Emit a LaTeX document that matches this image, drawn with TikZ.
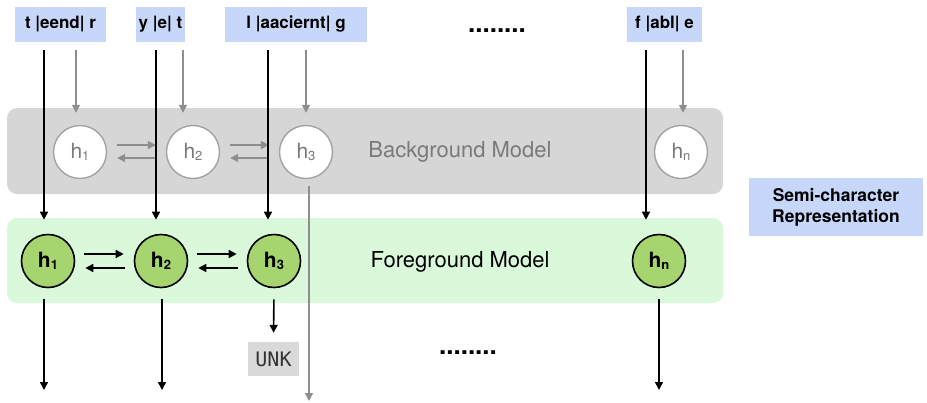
\documentclass[tikz,border=0pt]{standalone}
\usepackage{fontspec}
\setmainfont{TeX Gyre Heros}
\setmonofont{DejaVu Sans Mono}
\usetikzlibrary{arrows.meta,positioning}

\definecolor{bandgray}{HTML}{D6D6D6}
\definecolor{bandgreen}{HTML}{DAF9DA}
\definecolor{cellgreen}{HTML}{A6D46F}
\definecolor{lblblue}{HTML}{C7D7F9}
\definecolor{unkgray}{HTML}{D9D9D9}
\definecolor{linegray}{HTML}{8E8E8E}
\definecolor{ringgray}{HTML}{A2A2A2}
\definecolor{txtgray}{HTML}{7A7A7A}

\newcommand{\hsub}[1]{h\raisebox{-0.12ex}{\fontsize{13}{13}\selectfont #1}}

\tikzset{
  lbl/.style={fill=lblblue, font=\bfseries\fontsize{17}{20}\selectfont,
    minimum height=35pt, inner xsep=2pt},
  bgcell/.style={circle, draw=ringgray, fill=white, line width=1.4pt,
    minimum size=53pt, inner sep=0pt, text=txtgray,
    font=\fontsize{21}{21}\selectfont},
  fgcell/.style={circle, draw=black, fill=cellgreen, line width=1.6pt,
    minimum size=53pt, inner sep=0pt, font=\bfseries\fontsize{21}{21}\selectfont},
  blk/.style={line width=1.6pt, -{Triangle[length=8pt,width=8pt]}},
  gry/.style={draw=linegray, line width=1.4pt, -{Triangle[length=8pt,width=8pt]}},
  dots/.style={font=\bfseries\fontsize{26}{26}\selectfont, anchor=base}
}

\begin{document}
\begin{tikzpicture}[x=1pt,y=-1pt]

  \useasboundingbox (0,0) rectangle (927,402);

  % the two model bands
  \fill[bandgray, rounded corners=10pt] (7,108) rectangle (723,194);
  \fill[bandgreen, rounded corners=10pt] (7,218) rectangle (723,303);

  % input words
  \node[lbl, minimum width=91pt] (lbl1) at (60.5,24.5) {t |eend| r};
  \node[lbl, minimum width=49pt] (lbl2) at (160.5,24.5) {y |e| t};
  \node[lbl, minimum width=142pt] (lbl3) at (296,24.5) {l |aaciernt| g};
  \node[lbl, minimum width=75pt] (lbl4) at (664.5,24.5) {f |abl| e};
  \node[dots] (dtop) at (497,32) {........};

  \node[lbl, minimum width=174pt, minimum height=58pt, align=center,
    font=\bfseries\fontsize{17.5}{20}\selectfont] (semi) at (836,207)
    {Semi-character\\[1pt]Representation};

  % background model
  \node[bgcell] (bg1) at (80,152) {\hsub{1}};
  \node[bgcell] (bg2) at (193,152) {\hsub{2}};
  \node[bgcell] (bg3) at (306,152) {\hsub{3}};
  \node[bgcell] (bgn) at (681,152) {\hsub{n}};
  \node[text=txtgray, font=\fontsize{22}{22}\selectfont] (bgname) at (460,152) {Background Model};

  % foreground model
  \node[fgcell] (fg1) at (48,261) {\hsub{1}};
  \node[fgcell] (fg2) at (161,261) {\hsub{2}};
  \node[fgcell] (fg3) at (274,261) {\hsub{3}};
  \node[fgcell] (fgn) at (659,261) {\hsub{n}};
  \node[font=\fontsize{22}{22}\selectfont] (fgname) at (460,262) {Foreground Model};

  \node[fill=unkgray, minimum width=51pt, minimum height=34pt, inner sep=0pt,
    text=black!80, font=\ttfamily\fontsize{20}{20}\selectfont] (unk) at (273.5,359) {UNK};
  \node[dots] (dbot) at (468,354) {........};

  % line ends
  \coordinate (k1) at (44,50);   \coordinate (g1) at (76,50);
  \coordinate (k2) at (156,50);  \coordinate (g2) at (183,50);
  \coordinate (k3) at (268,50);  \coordinate (g3) at (306,50);
  \coordinate (kn) at (646,50);  \coordinate (gn) at (683,50);
  \coordinate (o1) at (44,390);  \coordinate (o2) at (162,390);
  \coordinate (on) at (659,390); \coordinate (g3out) at (309,401);

  % gray inputs and links
  \draw[gry, shorten >=12pt] (g1) -- (bg1.north -| g1);
  \draw[gry, shorten >=12pt] (g2) -- (bg2.north -| g2);
  \draw[gry, shorten >=12pt] (g3) -- (bg3.north -| g3);
  \draw[gry, shorten >=12pt] (gn) -- (bgn.north -| gn);
  \draw[gry, shorten <=10pt, shorten >=10pt] ([yshift=7pt]bg1.east) -- ([yshift=7pt]bg2.west);
  \draw[gry, shorten <=10pt, shorten >=10pt] ([yshift=-6pt]bg2.west) -- ([yshift=-6pt]bg1.east);
  \draw[gry, shorten <=10pt, shorten >=10pt] ([yshift=7pt]bg2.east) -- ([yshift=7pt]bg3.west);
  \draw[gry, shorten <=10pt, shorten >=10pt] ([yshift=-6pt]bg3.west) -- ([yshift=-6pt]bg2.east);
  \draw[gry, shorten <=7pt] (bg3.south -| g3out) -- (g3out);

  % black inputs
  \draw[blk, shorten >=14pt] (k1) -- (fg1.north -| k1);
  \draw[blk, shorten >=14pt] (k2) -- (fg2.north -| k2);
  \draw[blk, shorten >=14pt] (k3) -- (fg3.north -| k3);
  \draw[blk, shorten >=14pt] (kn) -- (fgn.north -| kn);

  % foreground links
  \draw[blk, shorten <=9pt, shorten >=10pt] ([yshift=7pt]fg1.east) -- ([yshift=7pt]fg2.west);
  \draw[blk, shorten <=9pt, shorten >=10pt] ([yshift=-7pt]fg2.west) -- ([yshift=-7pt]fg1.east);
  \draw[blk, shorten <=9pt, shorten >=10pt] ([yshift=7pt]fg2.east) -- ([yshift=7pt]fg3.west);
  \draw[blk, shorten <=9pt, shorten >=10pt] ([yshift=-7pt]fg3.west) -- ([yshift=-7pt]fg2.east);

  % outputs
  \draw[blk, shorten <=11pt] (fg1.south -| o1) -- (o1);
  \draw[blk, shorten <=11pt] (fg2.south -| o2) -- (o2);
  \draw[blk, shorten <=11pt] (fgn.south) -- (on);
  \draw[blk, shorten <=11pt, shorten >=9pt] (fg3.south) -- (unk.north);

\end{tikzpicture}
\end{document}
